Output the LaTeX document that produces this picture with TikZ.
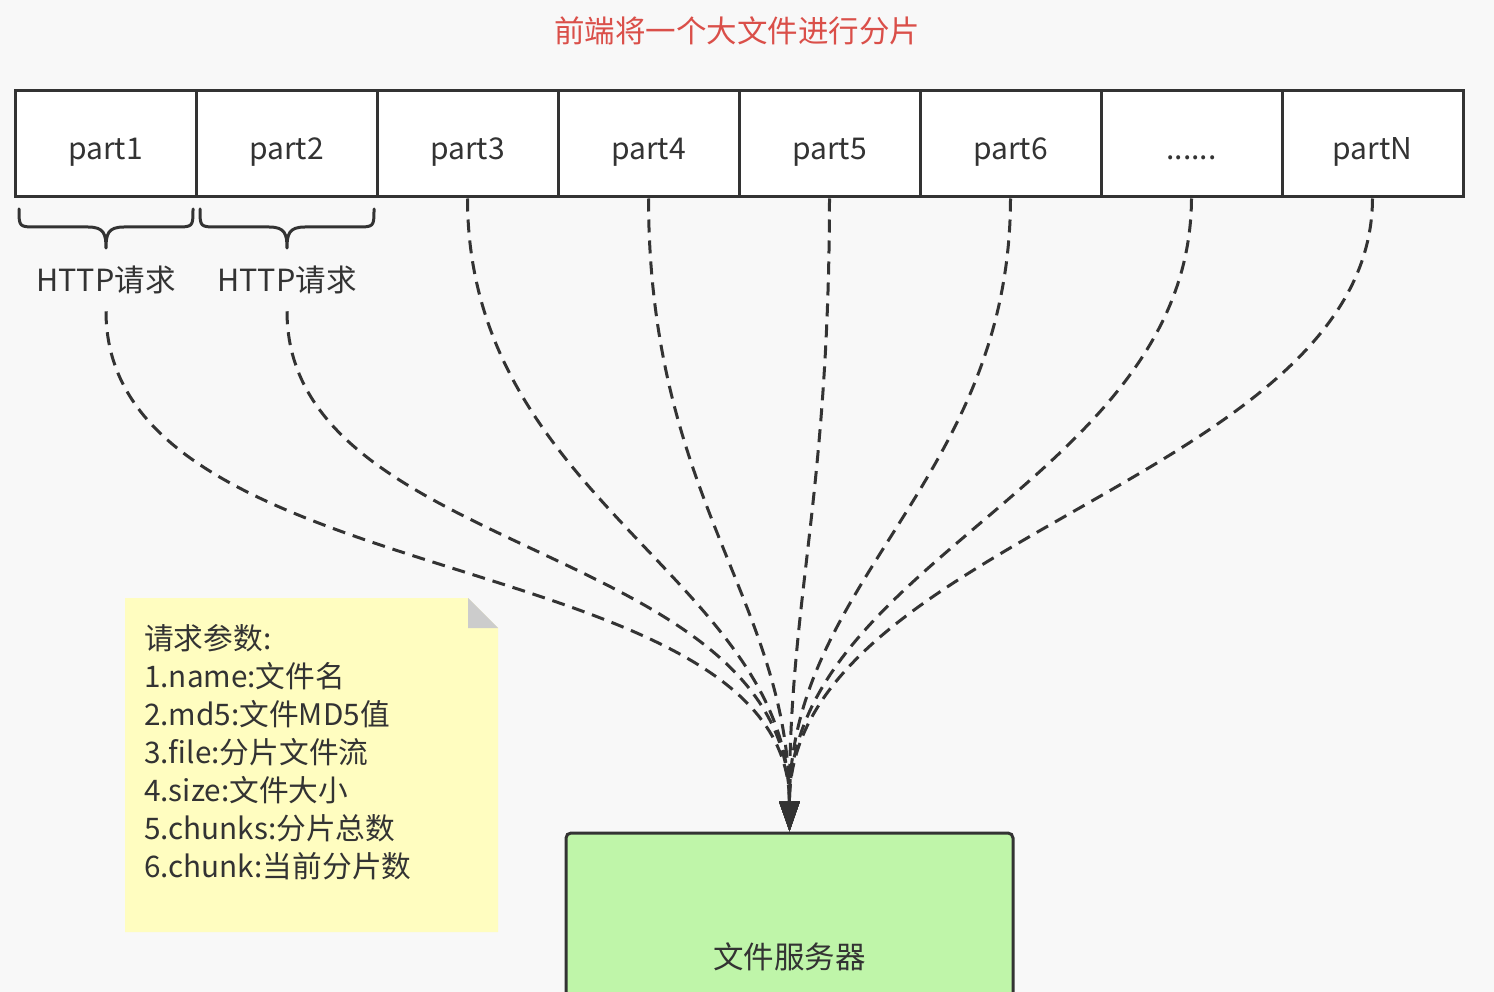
\documentclass[tikz,border=0pt]{standalone}
\usepackage{fontspec}
\setmainfont{Noto Sans CJK SC}
\usetikzlibrary{arrows.meta,calc}
\definecolor{bgc}{HTML}{F8F8F8}
\definecolor{ink}{HTML}{333333}
\definecolor{titlered}{HTML}{DA4F49}
\definecolor{noteyellow}{HTML}{FFFDC0}
\definecolor{foldgray}{HTML}{CCCCCC}
\definecolor{srvgreen}{HTML}{BFF5A9}
\tikzset{
  partbox/.style={draw=ink, line width=3pt, fill=white, minimum width=181pt, minimum height=106pt, inner sep=0pt, text=ink, text height=31pt, text depth=0pt, font=\fontsize{30}{34}\selectfont},
  lbl/.style={text=ink, inner sep=0pt, font=\fontsize{30.5}{34}\selectfont},
  bracestyle/.style={draw=ink, line width=3pt, line cap=round, line join=round},
  flow/.style={draw=ink, line width=3pt, dash pattern=on 13pt off 8pt, -{Triangle[length=30pt,width=20pt]}},
  srvbox/.style={draw=ink, line width=3pt, fill=srvgreen, rounded corners=5pt, minimum width=447pt, minimum height=248pt, inner sep=0pt, text=ink, font=\fontsize{30.5}{34}\selectfont},
}
\begin{document}
\begin{tikzpicture}[x=1pt,y=-1pt]
\useasboundingbox (0,0) rectangle (1494,992);
\clip (0,0) rectangle (1494,992);
\fill[bgc] (0,0) rectangle (1494,992);

% title
\node[lbl, text=titlered] (title) at (737,31) {前端将一个大文件进行分片};

% parts
\foreach \i/\t in {1/part1,2/part2,3/part3,4/part4,5/part5,6/part6,7/{......},8/partN}{
  \node[partbox] (p\i) at ({15+181*(\i-0.5)},144) {\t};
}

% braces
\foreach \cx in {106,287}{
  \draw[bracestyle] (\cx-87,209) .. controls (\cx-87,227) .. (\cx-69,227) -- (\cx-18,227)
    .. controls (\cx-2,227) and (\cx,234) .. (\cx,248)
    .. controls (\cx,234) and (\cx+2,227) .. (\cx+18,227) -- (\cx+69,227)
    .. controls (\cx+87,227) .. (\cx+87,209);
}

% HTTP labels
\node[lbl] (h1) at (106,280) {HTTP请求};
\node[lbl] (h2) at (287,280) {HTTP请求};

% note
\fill[noteyellow] (125,598) -- (468,598) -- (498,628) -- (498,932) -- (125,932) -- cycle;
\fill[foldgray] (468,598) -- (498,628) -- (468,628) -- cycle;
\node[lbl, anchor=north west, align=left, font=\fontsize{29.7}{38}\selectfont] (note) at (144,624)
  {请求参数:\\1.name:文件名\\2.md5:文件MD5值\\3.file:分片文件流\\4.size:文件大小\\5.chunks:分片总数\\6.chunk:当前分片数};

% server
\node[srvbox] (srv) at (789.5,957) {文件服务器};

% connectors
\coordinate (s1) at ($(h1.south)+(0,17)$);
\coordinate (s2) at ($(h2.south)+(0,17)$);
\draw[flow] (s1) .. controls (106,600) and (789,540) .. (srv.north);
\draw[flow] (s2) .. controls (287,560) and (789,540) .. (srv.north);
\draw[flow] (p3.south) .. controls (468,500) and (789,580) .. (srv.north);
\draw[flow] (p4.south) .. controls (649,500) and (789,600) .. (srv.north);
\draw[flow] (p5.south) .. controls (829,500) and (789,600) .. (srv.north);
\draw[flow] (p6.south) .. controls (1010,480) and (789,580) .. (srv.north);
\draw[flow] (p7.south) .. controls (1190,480) and (789,560) .. (srv.north);
\draw[flow] (p8.south) .. controls (1371,480) and (789,540) .. (srv.north);
\end{tikzpicture}
\end{document}
